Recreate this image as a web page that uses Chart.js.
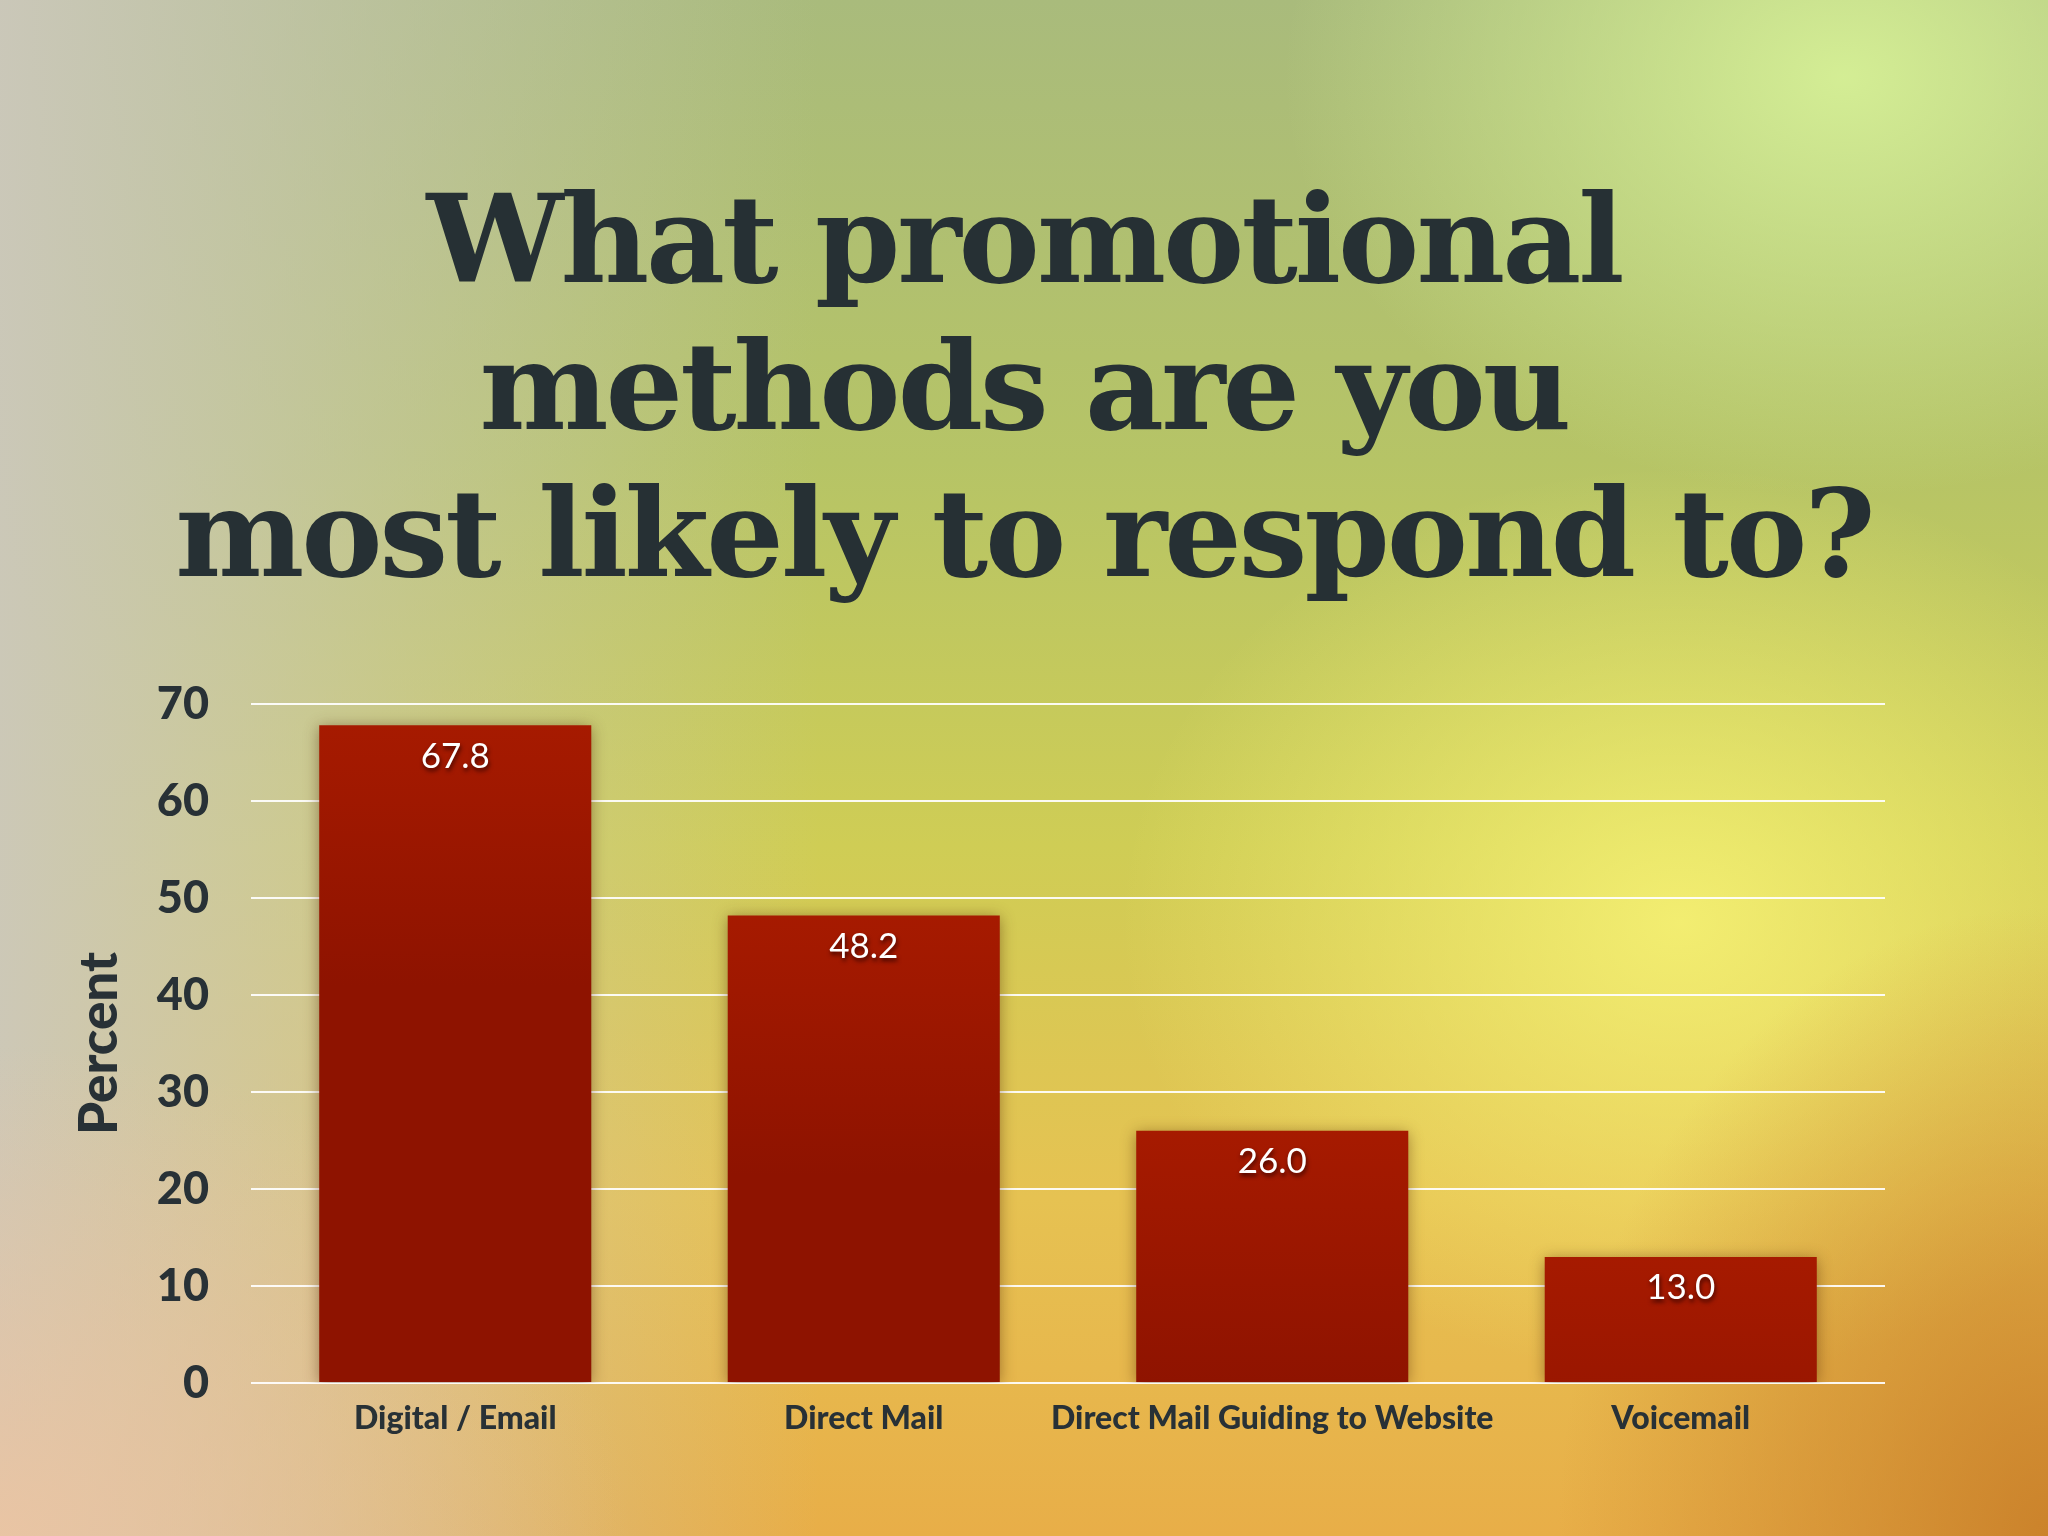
<!DOCTYPE html>
<html>
<head>
<meta charset="utf-8">
<script src="https://cdn.jsdelivr.net/npm/chart.js@4.4.0/dist/chart.umd.min.js"></script>
<style>
  html, body { margin: 0; padding: 0; }
  body {
    width: 2048px; height: 1536px; overflow: hidden; position: relative;
    background:
      radial-gradient(ellipse 900px 700px at 0% 100%, rgba(238,196,160,0.85), rgba(238,196,160,0) 70%),
      radial-gradient(ellipse 700px 900px at 100% 100%, rgba(200,126,40,0.9), rgba(200,126,40,0) 70%),
      radial-gradient(ellipse 800px 650px at 82% 60%, rgba(250,246,120,0.8), rgba(250,246,120,0) 70%),
      radial-gradient(ellipse 800px 600px at 90% 5%, rgba(214,240,150,0.95), rgba(214,240,150,0) 70%),
      linear-gradient(to right, rgba(204,200,188,0.95) 0%, rgba(204,200,188,0.5) 18%, rgba(204,200,188,0) 40%),
      linear-gradient(to bottom, #a9bb7c 0%, #b6c466 30%, #cfcd55 55%, #e6c252 78%, #e8ae48 100%);
  }
  #title {
    position: absolute; left: 0; top: 166px; width: 2048px;
    text-align: center;
    font-family: "DejaVu Serif", serif; font-weight: bold;
    font-size: 122px; line-height: 147px; color: #263034;
    letter-spacing: -3px;
  }
  #wrap { position: absolute; left: 0; top: 0; width: 2048px; height: 1536px; }
</style>
</head>
<body>
<div id="title">What promotional<br>methods are you<br>most likely to respond to?</div>
<div id="wrap"><canvas id="chart"></canvas></div>
<script>
const categories = ['Digital / Email', 'Direct Mail', 'Direct Mail Guiding to Website', 'Voicemail'];
const percentValues = [67.8, 48.2, 26.0, 13.0];
const yTicks = [0, 10, 20, 30, 40, 50, 60, 70];

const textColor = '#283136';
const labelFont = 'Lato, "Open Sans", sans-serif';

// bar gradient from the top of each bar
function barFill(ctx) {
  const chart = ctx.chart;
  if (!chart.chartArea) return '#921400';
  const y = chart.scales.y;
  const top = y.getPixelForValue(ctx.raw);
  const g = chart.ctx.createLinearGradient(0, top, 0, top + 260);
  g.addColorStop(0, '#a61a00');
  g.addColorStop(1, '#8e1300');
  return g;
}

const barShadow = {
  id: 'barShadow',
  beforeDatasetsDraw(chart) {
    const c = chart.ctx;
    c.save();
    c.shadowColor = 'rgba(70,30,0,0.45)';
    c.shadowBlur = 14;
    c.shadowOffsetY = 2;
  },
  afterDatasetsDraw(chart) {
    chart.ctx.restore();
  }
};

const valueLabels = {
  id: 'valueLabels',
  afterDatasetsDraw(chart) {
    const c = chart.ctx;
    const meta = chart.getDatasetMeta(0);
    c.save();
    c.font = '35px ' + labelFont;
    c.fillStyle = '#ffffff';
    c.textAlign = 'center';
    c.textBaseline = 'middle';
    c.shadowColor = 'rgba(40,0,0,0.8)';
    c.shadowBlur = 4;
    c.shadowOffsetX = 1;
    c.shadowOffsetY = 3;
    meta.data.forEach((bar, i) => {
      c.fillText(percentValues[i].toFixed(1), bar.x, bar.y + 31);
    });
    c.restore();
  }
};

new Chart(document.getElementById('chart'), {
  type: 'bar',
  data: {
    labels: categories,
    datasets: [{
      data: percentValues,
      backgroundColor: barFill,
      borderWidth: 0,
      categoryPercentage: 1,
      barPercentage: 0.666
    }]
  },
  options: {
    responsive: true,
    maintainAspectRatio: false,
    animation: false,
    devicePixelRatio: 1,
    layout: { padding: { top: 704, right: 163, bottom: 0, left: 0 } },
    plugins: { legend: { display: false }, tooltip: { enabled: false } },
    scales: {
      x: {
        grid: { display: false },
        border: { display: false },
        ticks: {
          color: textColor, padding: 8,
          autoSkip: false, maxRotation: 0, minRotation: 0,
          font: { family: labelFont, size: 32, weight: 900 }
        },
        afterFit: s => { s.height = 153; }
      },
      y: {
        min: 0, max: 70,
        afterBuildTicks: s => { s.ticks = yTicks.map(v => ({ value: v })); },
        grid: { color: 'rgba(255,255,255,0.92)', lineWidth: 2, drawTicks: false },
        border: { display: false },
        ticks: {
          color: textColor, padding: 42,
          font: { family: labelFont, size: 45, weight: 900 }
        },
        title: {
          display: true, text: 'Percent', color: textColor,
          padding: { top: 68, bottom: 0 },
          font: { family: labelFont, size: 53, weight: 900 }
        },
        afterFit: s => { s.width = 251; }
      }
    }
  },
  plugins: [barShadow, valueLabels]
});
</script>
</body>
</html>
